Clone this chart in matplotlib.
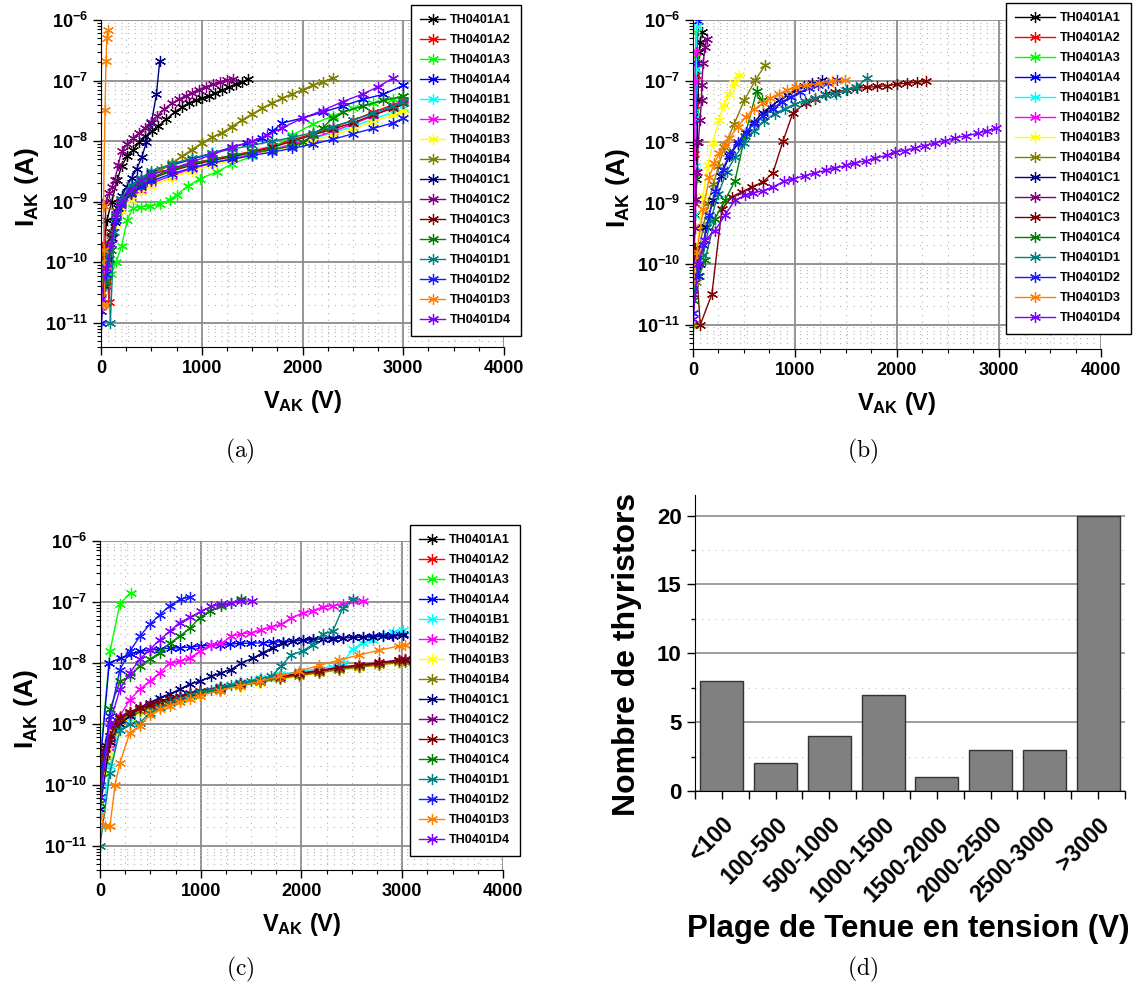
import numpy as np
import matplotlib
matplotlib.use("Agg")
import matplotlib.pyplot as plt
from matplotlib.ticker import LogLocator, MultipleLocator, FixedLocator, NullFormatter

plt.rcParams['font.family'] = ['Liberation Sans', 'DejaVu Sans']
plt.rcParams['font.weight'] = 'bold'
plt.rcParams['mathtext.fontset'] = 'custom'
plt.rcParams['mathtext.rm'] = 'Liberation Sans:bold'
plt.rcParams['mathtext.it'] = 'Liberation Sans:bold'
plt.rcParams['mathtext.bf'] = 'Liberation Sans:bold'
plt.rcParams['mathtext.sf'] = 'Liberation Sans:bold'

names = ['TH0401A1', 'TH0401A2', 'TH0401A3', 'TH0401A4',
         'TH0401B1', 'TH0401B2', 'TH0401B3', 'TH0401B4',
         'TH0401C1', 'TH0401C2', 'TH0401C3', 'TH0401C4',
         'TH0401D1', 'TH0401D2', 'TH0401D3', 'TH0401D4']
colors = ['#000000', '#ff0000', '#00ff00', '#0000ff',
          '#00ffff', '#ff00ff', '#ffff00', '#808000',
          '#000080', '#800080', '#800000', '#008000',
          '#008080', '#1a1aff', '#ff8000', '#8000ff']

# ---------------- panel (a) : V (V), I (A) ----------------
va_std = [0, 50, 100, 150, 200, 300, 400, 500, 700, 900, 1100, 1300, 1500, 1700, 1900, 2100, 2300, 2500, 2700, 2900, 3000]
va = [
    [0, 30, 60, 106, 160, 205, 260, 320, 380, 440, 510, 570, 650, 730, 800, 870, 940, 1000, 1070, 1130, 1200, 1270, 1340, 1400, 1460],
    [0, 40, 80, 120, 160, 200, 300, 400, 500, 700, 900, 1100, 1300, 1500, 1700, 1900, 2100, 2300, 2500, 2700, 2900, 3000],
    [0, 50, 100, 150, 205, 260, 320, 400, 487, 586, 680, 751, 860, 983, 1147, 1300, 1500, 1700, 1900, 2100, 2300, 2500, 2700, 2900, 3000],
    [0, 50, 100, 150, 200, 300, 400, 500, 700, 900, 1100, 1300, 1450, 1600, 1700, 1800, 2000, 2200, 2400, 2600, 2800, 3000],
    va_std,
    va_std,
    va_std,
    [0, 50, 100, 150, 200, 300, 400, 500, 600, 700, 800, 900, 1000, 1100, 1200, 1300, 1400, 1500, 1600, 1700, 1800, 1900, 2000, 2100, 2200, 2300],
    [0, 40, 75, 110, 140, 170, 205, 255, 305, 355, 404, 450, 500, 550, 583],
    [0, 30, 50, 80, 110, 139, 170, 205, 260, 320, 380, 437, 500, 560, 630, 700, 770, 840, 900, 970, 1040, 1110, 1180, 1250, 1310],
    va_std,
    [0, 50, 100, 150, 200, 300, 400, 500, 700, 900, 1100, 1300, 1500, 1700, 1900, 2000, 2100, 2200, 2300, 2400, 2600, 2800, 3000],
    [0, 40, 70, 93, 130, 200, 300, 400, 500, 700, 900, 1100, 1300, 1500, 1700, 1900, 2100, 2300, 2500, 2700, 2900, 3000],
    va_std,
    [0, 20, 40, 30, 25, 40, 50, 58, 65],
    [0, 50, 100, 150, 200, 300, 400, 500, 700, 900, 1100, 1300, 1500, 1650, 1800, 2000, 2200, 2400, 2600, 2750, 2900],
]
ia = [
    [4.0e-11, 2.0e-10, 5.0e-10, 1.0e-9, 2.24e-9, 3.9e-9, 5.6e-9, 7.2e-9, 9.5e-9, 1.2e-8, 1.45e-8, 1.78e-8, 2.3e-8, 3.0e-8, 3.6e-8, 4.3e-8, 4.7e-8, 5.1e-8, 5.6e-8, 6.2e-8, 6.9e-8, 7.8e-8, 8.7e-8, 9.5e-8, 1.05e-7],
    [6.3e-11, 2.0e-10, 2.2e-11, 3.2e-10, 7.1e-10, 1.0e-9, 1.51e-9, 2.1e-9, 2.5e-9, 3.4e-9, 4.3e-9, 5.0e-9, 5.8e-9, 6.8e-9, 8.3e-9, 1.05e-8, 1.32e-8, 1.66e-8, 2.2e-8, 3.0e-8, 4.0e-8, 4.7e-8],
    [4.0e-11, 5.0e-11, 6.3e-11, 1.0e-10, 1.86e-10, 5.0e-10, 7.9e-10, 8.3e-10, 8.5e-10, 9.1e-10, 1.07e-9, 1.3e-9, 1.8e-9, 2.4e-9, 3.1e-9, 4.2e-9, 5.6e-9, 7.6e-9, 1.26e-8, 1.9e-8, 2.6e-8, 3.5e-8, 4.2e-8, 5.0e-8, 5.5e-8],
    [1.6e-11, 6.3e-11, 2.5e-10, 7.1e-10, 1.12e-9, 1.66e-9, 2.4e-9, 3.0e-9, 4.0e-9, 5.0e-9, 6.3e-9, 7.9e-9, 9.3e-9, 1.12e-8, 1.45e-8, 2.0e-8, 2.4e-8, 3.0e-8, 3.8e-8, 4.9e-8, 5.9e-8, 8.3e-8],
    [7.9e-11, 1.26e-10, 2.5e-10, 5.0e-10, 7.9e-10, 1.2e-9, 1.66e-9, 2.1e-9, 2.8e-9, 3.6e-9, 4.4e-9, 5.2e-9, 6.2e-9, 7.4e-9, 8.9e-9, 1.1e-8, 1.38e-8, 1.74e-8, 2.3e-8, 3.0e-8, 3.5e-8],
    [3.2e-11, 1.0e-10, 2.8e-10, 5.6e-10, 8.3e-10, 1.2e-9, 1.58e-9, 2.0e-9, 2.7e-9, 3.5e-9, 4.3e-9, 5.1e-9, 6.0e-9, 7.2e-9, 8.9e-9, 1.12e-8, 1.45e-8, 1.9e-8, 2.6e-8, 3.8e-8, 4.8e-8],
    [6.3e-11, 1.26e-10, 2.5e-10, 4.5e-10, 7.1e-10, 1.07e-9, 1.45e-9, 1.82e-9, 2.5e-9, 3.2e-9, 4.0e-9, 4.8e-9, 5.8e-9, 6.9e-9, 8.3e-9, 1.02e-8, 1.26e-8, 1.58e-8, 2.1e-8, 2.7e-8, 3.2e-8],
    [5.0e-11, 1.26e-10, 3.2e-10, 7.1e-10, 1.07e-9, 1.58e-9, 2.24e-9, 2.8e-9, 3.5e-9, 4.3e-9, 5.6e-9, 7.2e-9, 9.3e-9, 1.15e-8, 1.38e-8, 1.74e-8, 2.24e-8, 2.8e-8, 3.5e-8, 4.3e-8, 5.1e-8, 6.0e-8, 7.1e-8, 8.3e-8, 9.5e-8, 1.1e-7],
    [1.0e-11, 4.0e-11, 1.12e-10, 2.5e-10, 4.6e-10, 7.9e-10, 1.23e-9, 1.78e-9, 2.5e-9, 3.5e-9, 5.4e-9, 9.5e-9, 2.0e-8, 5.9e-8, 2.1e-7],
    [1.6e-11, 1.6e-10, 1.0e-9, 1.4e-9, 1.78e-9, 2.3e-9, 4.0e-9, 6.8e-9, 8.9e-9, 1.12e-8, 1.38e-8, 1.66e-8, 2.1e-8, 2.6e-8, 3.4e-8, 4.2e-8, 4.9e-8, 5.6e-8, 6.3e-8, 7.1e-8, 7.9e-8, 8.7e-8, 9.5e-8, 1.02e-7, 1.07e-7],
    [1.0e-10, 1.58e-10, 3.2e-10, 6.3e-10, 9.5e-10, 1.41e-9, 1.9e-9, 2.4e-9, 3.2e-9, 4.0e-9, 4.8e-9, 5.5e-9, 6.5e-9, 7.9e-9, 1.0e-8, 1.26e-8, 1.58e-8, 2.0e-8, 2.7e-8, 3.5e-8, 4.2e-8],
    [3.2e-11, 5.0e-11, 1.58e-10, 5.6e-10, 9.5e-10, 1.41e-9, 2.0e-9, 2.5e-9, 3.3e-9, 4.2e-9, 5.0e-9, 5.8e-9, 6.5e-9, 7.2e-9, 8.3e-9, 9.5e-9, 1.26e-8, 1.66e-8, 2.4e-8, 3.0e-8, 3.8e-8, 4.7e-8, 5.5e-8],
    [5.0e-11, 1.0e-10, 1.58e-10, 1.0e-11, 3.2e-10, 1.12e-9, 1.9e-9, 2.5e-9, 3.2e-9, 4.2e-9, 5.2e-9, 6.3e-9, 7.4e-9, 8.5e-9, 1.0e-8, 1.15e-8, 1.38e-8, 1.74e-8, 2.2e-8, 2.9e-8, 3.8e-8, 4.5e-8],
    [1.0e-11, 6.3e-11, 2.0e-10, 5.0e-10, 8.9e-10, 1.32e-9, 1.78e-9, 2.2e-9, 2.9e-9, 3.6e-9, 4.4e-9, 5.0e-9, 5.8e-9, 6.6e-9, 7.6e-9, 8.9e-9, 1.07e-8, 1.32e-8, 1.62e-8, 2.0e-8, 2.4e-8],
    [1.0e-10, 2.0e-11, 2.0e-11, 1.58e-10, 8.5e-10, 3.3e-8, 2.1e-7, 5.1e-7, 6.9e-7],
    [2.5e-11, 7.9e-11, 2.0e-10, 6.3e-10, 1.0e-9, 1.58e-9, 2.24e-9, 2.8e-9, 3.5e-9, 4.5e-9, 6.0e-9, 7.9e-9, 1.0e-8, 1.26e-8, 1.66e-8, 2.4e-8, 3.2e-8, 4.5e-8, 6.0e-8, 7.9e-8, 1.1e-7],
]

# ---------------- panel (b) ----------------
vb = [
    [0, 10, 20, 30, 40, 50, 63, 69, 85],
    [0, 5, 10, 15, 20, 25],
    [0, 6, 12, 18, 24, 30],
    [0, 10, 20, 30, 40, 49],
    [0, 8, 16, 24, 32, 40],
    [0, 10, 15, 20, 25],
    [0, 30, 60, 97, 146, 195, 253, 302, 357, 406, 455],
    [0, 30, 60, 100, 150, 200, 250, 308, 406, 503, 610, 708],
    [0, 65, 130, 195, 275, 357, 440, 519, 600, 682, 760, 844, 920, 1006, 1090, 1169, 1266],
    [0, 10, 20, 29, 42, 52, 69, 85, 85, 101, 118, 134],
    [0, 20, 72, 186, 284, 382, 480, 578, 686, 784, 882, 980, 1104, 1201, 1299, 1396, 1510, 1607, 1705, 1800, 1900, 2000, 2094, 2192, 2289],
    [0, 60, 118, 216, 314, 412, 510, 624, 673],
    [0, 50, 100, 170, 250, 330, 410, 500, 600, 700, 800, 900, 1000, 1100, 1200, 1300, 1400, 1500, 1600, 1705],
    [0, 50, 100, 160, 220, 290, 360, 440, 520, 600, 690, 780, 870, 960, 1050, 1140, 1230, 1320, 1410],
    [0, 40, 100, 162, 210, 260, 310, 357, 440, 519, 600, 682, 760, 844, 920, 1006, 1120, 1234, 1360, 1494],
    [0, 50, 118, 216, 314, 412, 510, 590, 686, 784, 889, 980, 1100, 1201, 1300, 1396, 1500, 1591, 1700, 1786, 1900, 1981, 2080, 2175, 2270, 2370, 2470, 2565, 2680, 2792, 2880, 2971],
]
ib = [
    [4.0e-11, 1.58e-10, 6.3e-10, 2.5e-9, 1.0e-8, 5.0e-8, 3.0e-7, 4.4e-7, 6.3e-7],
    [2.5e-11, 1.58e-10, 1.0e-9, 6.3e-9, 4.0e-8, 1.26e-7],
    [1.0e-11, 1.58e-10, 2.5e-9, 3.2e-8, 2.5e-7, 6.3e-7],
    [5.0e-11, 4.0e-10, 3.2e-9, 2.5e-8, 2.0e-7, 9.5e-7],
    [1.0e-10, 6.3e-10, 4.0e-9, 2.5e-8, 1.58e-7, 7.9e-7],
    [6.3e-11, 4.0e-10, 3.2e-9, 1.0e-7, 3.0e-7],
    [6.3e-11, 1.58e-10, 4.0e-10, 1.29e-9, 4.2e-9, 9.5e-9, 2.3e-8, 4.0e-8, 6.2e-8, 9.1e-8, 1.23e-7],
    [1.0e-11, 5.0e-11, 1.58e-10, 4.0e-10, 1.0e-9, 2.0e-9, 4.0e-9, 8.3e-9, 2.0e-8, 4.8e-8, 1.02e-7, 1.82e-7],
    [2.5e-11, 1.0e-10, 4.0e-10, 1.12e-9, 2.8e-9, 5.8e-9, 9.3e-9, 1.38e-8, 2.1e-8, 3.0e-8, 3.8e-8, 4.8e-8, 5.9e-8, 7.1e-8, 8.1e-8, 9.1e-8, 1.02e-7],
    [3.2e-11, 1.26e-10, 3.8e-10, 1.17e-9, 3.2e-9, 1.0e-8, 2.3e-8, 4.9e-8, 8.5e-8, 2.0e-7, 3.6e-7, 4.9e-7],
    [1.26e-10, 1.78e-10, 1.0e-11, 3.2e-11, 7.9e-10, 1.26e-9, 1.51e-9, 1.82e-9, 2.2e-9, 3.1e-9, 1.02e-8, 3.0e-8, 4.3e-8, 5.1e-8, 6.0e-8, 6.6e-8, 7.1e-8, 7.6e-8, 7.8e-8, 8.1e-8, 8.3e-8, 8.9e-8, 9.1e-8, 9.5e-8, 1.0e-7],
    [2.5e-11, 6.3e-11, 1.15e-10, 5.5e-10, 1.1e-9, 2.3e-9, 1.26e-8, 6.8e-8, 4.9e-8],
    [4.0e-11, 1.0e-10, 1.41e-10, 5.0e-10, 1.41e-9, 3.2e-9, 5.6e-9, 9.5e-9, 1.51e-8, 2.2e-8, 2.9e-8, 3.5e-8, 4.2e-8, 4.7e-8, 5.2e-8, 5.8e-8, 6.2e-8, 7.2e-8, 7.9e-8, 1.1e-7],
    [1.58e-11, 6.3e-11, 2.0e-10, 6.3e-10, 1.58e-9, 3.5e-9, 6.3e-9, 1.0e-8, 1.45e-8, 2.0e-8, 2.7e-8, 3.5e-8, 4.5e-8, 5.5e-8, 6.5e-8, 7.6e-8, 8.5e-8, 9.3e-8, 1.02e-7],
    [5.0e-11, 1.58e-10, 7.9e-10, 2.7e-9, 4.5e-9, 6.6e-9, 8.9e-9, 1.15e-8, 1.78e-8, 2.6e-8, 3.4e-8, 4.3e-8, 5.2e-8, 6.2e-8, 7.1e-8, 7.9e-8, 8.5e-8, 9.1e-8, 9.8e-8, 1.02e-7],
    [1.26e-11, 1.0e-10, 2.45e-10, 3.5e-10, 6.3e-10, 1.1e-9, 1.32e-9, 1.45e-9, 1.58e-9, 1.82e-9, 2.24e-9, 2.45e-9, 2.8e-9, 3.1e-9, 3.4e-9, 3.7e-9, 4.1e-9, 4.5e-9, 4.9e-9, 5.4e-9, 6.0e-9, 6.8e-9, 7.2e-9, 7.9e-9, 8.7e-9, 9.5e-9, 1.05e-8, 1.15e-8, 1.26e-8, 1.38e-8, 1.51e-8, 1.66e-8],
]

# ---------------- panel (c) ----------------
vc_std = [0, 50, 99, 150, 198, 297, 396, 495, 594, 693, 792, 891, 990, 1188, 1386, 1584, 1782, 1980, 2178, 2376, 2574, 2772, 2970, 3030]
vc = [
    vc_std,
    vc_std,
    [0, 99, 198, 304],
    [0, 92, 205, 304, 396, 500, 594, 700, 792, 900, 1000, 1100, 1188, 1290, 1386, 1500, 1617, 1720, 1820, 1914, 2010, 2110, 2211, 2310, 2410, 2508, 2610, 2706, 2810, 2900, 3003],
    [0, 99, 198, 297, 396, 495, 594, 693, 792, 891, 990, 1188, 1386, 1584, 1782, 1980, 2178, 2310, 2409, 2508, 2607, 2706, 2805, 2904, 3003],
    [0, 99, 198, 297, 396, 495, 594, 693, 792, 891, 990, 1106, 1205, 1304, 1403, 1502, 1600, 1700, 1799, 1898, 2013, 2112, 2211, 2310, 2409, 2508, 2607],
    vc_std,
    vc_std,
    [0, 99, 198, 297, 396, 495, 594, 693, 792, 891, 990, 1106, 1205, 1304, 1403, 1518, 1617, 1716, 1815, 1914, 2013, 2112, 2211, 2310, 2409, 2508, 2607, 2706, 2805, 2904, 3003],
    vc_std,
    vc_std,
    [0, 99, 198, 297, 396, 495, 594, 693, 792, 891, 990, 1089, 1205, 1304, 1403],
    [0, 99, 198, 297, 396, 495, 594, 693, 792, 891, 990, 1106, 1205, 1304, 1403, 1502, 1600, 1700, 1799, 1898, 2013, 2112, 2211, 2310, 2409, 2508],
    [0, 99, 198, 297, 396, 495, 594, 693, 800, 891],
    vc_std,
    [0, 99, 198, 297, 396, 495, 594, 693, 792, 891, 1007, 1106, 1205, 1304, 1403, 1508],
]
ic = [
    [2.5e-10, 4.5e-10, 6.3e-10, 1.0e-9, 1.26e-9, 1.51e-9, 1.78e-9, 2.0e-9, 2.24e-9, 2.5e-9, 2.75e-9, 3.0e-9, 3.3e-9, 3.8e-9, 4.4e-9, 5.0e-9, 5.6e-9, 6.5e-9, 7.2e-9, 7.9e-9, 8.7e-9, 9.5e-9, 1.05e-8, 1.07e-8],
    [6.3e-11, 2.0e-10, 4.5e-10, 8.9e-10, 1.2e-9, 1.45e-9, 1.7e-9, 1.95e-9, 2.2e-9, 2.45e-9, 2.7e-9, 2.95e-9, 3.2e-9, 3.7e-9, 4.3e-9, 4.9e-9, 5.6e-9, 6.5e-9, 7.2e-9, 8.1e-9, 8.9e-9, 9.8e-9, 1.1e-8, 1.15e-8],
    [2.5e-10, 1.55e-8, 9.3e-8, 1.41e-7],
    [2.0e-10, 1.0e-8, 1.2e-8, 1.41e-8, 1.55e-8, 1.62e-8, 1.7e-8, 1.74e-8, 1.78e-8, 1.82e-8, 1.9e-8, 1.95e-8, 2.0e-8, 2.04e-8, 2.1e-8, 2.11e-8, 2.14e-8, 2.19e-8, 2.24e-8, 2.29e-8, 2.34e-8, 2.4e-8, 2.5e-8, 2.57e-8, 2.6e-8, 2.63e-8, 2.69e-8, 2.75e-8, 2.82e-8, 2.88e-8, 2.95e-8],
    [2.1e-11, 2.0e-10, 1.0e-9, 1.26e-9, 1.58e-9, 1.9e-9, 2.2e-9, 2.5e-9, 2.8e-9, 3.2e-9, 3.5e-9, 4.2e-9, 4.9e-9, 5.6e-9, 6.5e-9, 7.2e-9, 8.1e-9, 8.7e-9, 1.0e-8, 1.7e-8, 2.14e-8, 2.4e-8, 2.75e-8, 3.2e-8, 3.5e-8],
    [6.3e-11, 4.0e-10, 1.35e-9, 2.5e-9, 3.7e-9, 5.0e-9, 6.9e-9, 1.0e-8, 1.07e-8, 1.2e-8, 1.55e-8, 2.0e-8, 2.1e-8, 2.75e-8, 3.0e-8, 3.1e-8, 3.5e-8, 3.9e-8, 4.3e-8, 5.5e-8, 6.6e-8, 7.2e-8, 8.3e-8, 8.7e-8, 9.1e-8, 1.02e-7, 1.05e-7],
    [4.0e-11, 1.58e-10, 3.2e-10, 7.1e-10, 1.07e-9, 1.32e-9, 1.58e-9, 1.82e-9, 2.04e-9, 2.3e-9, 2.5e-9, 2.75e-9, 3.0e-9, 3.5e-9, 4.1e-9, 4.7e-9, 5.4e-9, 6.0e-9, 6.8e-9, 7.6e-9, 8.3e-9, 9.1e-9, 1.0e-8, 1.02e-8],
    [1.0e-10, 2.5e-10, 5.0e-10, 7.9e-10, 1.12e-9, 1.38e-9, 1.62e-9, 1.86e-9, 2.14e-9, 2.4e-9, 2.6e-9, 2.9e-9, 3.2e-9, 3.6e-9, 4.2e-9, 4.8e-9, 5.5e-9, 6.2e-9, 6.9e-9, 7.8e-9, 8.5e-9, 9.3e-9, 1.02e-8, 1.05e-8],
    [4.0e-11, 5.0e-10, 1.0e-9, 1.35e-9, 1.86e-9, 2.24e-9, 2.7e-9, 3.1e-9, 3.7e-9, 4.5e-9, 5.0e-9, 6.0e-9, 6.9e-9, 7.8e-9, 1.0e-8, 1.2e-8, 1.48e-8, 1.78e-8, 2.14e-8, 2.3e-8, 2.4e-8, 2.45e-8, 2.5e-8, 2.5e-8, 2.57e-8, 2.63e-8, 2.63e-8, 2.69e-8, 2.75e-8, 2.75e-8, 2.82e-8],
    [1.58e-10, 3.2e-10, 5.6e-10, 1.0e-9, 1.32e-9, 1.58e-9, 1.86e-9, 2.1e-9, 2.3e-9, 2.6e-9, 2.9e-9, 3.2e-9, 3.5e-9, 4.0e-9, 4.6e-9, 5.2e-9, 6.0e-9, 6.8e-9, 7.6e-9, 8.5e-9, 9.3e-9, 1.02e-8, 1.12e-8, 1.15e-8],
    [2.0e-10, 4.0e-10, 6.3e-10, 9.5e-10, 1.26e-9, 1.55e-9, 1.82e-9, 2.04e-9, 2.3e-9, 2.6e-9, 2.8e-9, 3.1e-9, 3.4e-9, 3.9e-9, 4.5e-9, 5.1e-9, 5.9e-9, 6.6e-9, 7.4e-9, 8.3e-9, 9.1e-9, 1.0e-8, 1.1e-8, 1.12e-8],
    [5.0e-11, 1.74e-9, 5.0e-9, 6.0e-9, 8.9e-9, 1.15e-8, 1.48e-8, 2.1e-8, 2.75e-8, 3.7e-8, 5.5e-8, 7.1e-8, 8.5e-8, 9.5e-8, 1.1e-7],
    [1.0e-11, 1.58e-10, 7.9e-10, 1.0e-9, 1.05e-9, 1.51e-9, 1.9e-9, 2.24e-9, 2.6e-9, 3.0e-9, 3.3e-9, 3.6e-9, 4.0e-9, 4.4e-9, 4.7e-9, 5.0e-9, 5.4e-9, 6.0e-9, 8.9e-9, 1.35e-8, 1.58e-8, 2.0e-8, 3.0e-8, 3.3e-8, 7.9e-8, 1.1e-7],
    [1.0e-10, 1.35e-9, 7.8e-9, 1.55e-8, 2.75e-8, 4.3e-8, 6.2e-8, 8.7e-8, 1.12e-7, 1.2e-7],
    [3.2e-11, 2.1e-11, 2.1e-11, 1.0e-10, 2.3e-10, 7.2e-10, 9.3e-10, 1.41e-9, 1.74e-9, 2.0e-9, 2.3e-9, 2.6e-9, 2.9e-9, 3.5e-9, 4.2e-9, 5.0e-9, 6.0e-9, 7.4e-9, 9.1e-9, 1.12e-8, 1.35e-8, 1.62e-8, 1.9e-8, 2.0e-8],
    [6.3e-11, 1.05e-9, 3.7e-9, 6.9e-9, 1.15e-8, 1.66e-8, 2.4e-8, 3.3e-8, 4.6e-8, 5.6e-8, 7.1e-8, 8.5e-8, 9.1e-8, 9.5e-8, 1.02e-7, 1.05e-7],
]

# ---------------- panel (d) ----------------
ranges = ['<100', '100-500', '500-1000', '1000-1500', '1500-2000', '2000-2500', '2500-3000', '>3000']
counts = [8, 2, 4, 7, 1, 3, 3, 20]

ytick_vals = [1e-11, 1e-10, 1e-9, 1e-8, 1e-7, 1e-6]
ytick_labs = ['10$^{-11}$', '10$^{-10}$', '10$^{-9}$', '10$^{-8}$', '10$^{-7}$', '10$^{-6}$']

fig = plt.figure(figsize=(11.36, 9.88), dpi=100)


def iv_panel(rect, vlist, ilist, leg_xy, hl):
    ax = fig.add_axes(rect)
    for v, i, c, n in zip(vlist, ilist, colors, names):
        ax.plot(v, i, color=c, lw=1, marker=(6, 2, 0), ms=8, mew=0.9, label=n)
    ax.set_yscale('log')
    ax.set_xlim(0, 4000)
    ax.set_ylim(4e-12, 1e-6)
    ax.set_xticks([0, 1000, 2000, 3000, 4000])
    ax.xaxis.set_minor_locator(MultipleLocator(250))
    ax.set_yticks(ytick_vals)
    ax.set_yticklabels(ytick_labs)
    ax.yaxis.set_minor_locator(LogLocator(base=10, subs=np.arange(2, 10), numticks=30))
    ax.yaxis.set_minor_formatter(NullFormatter())
    ax.tick_params(which='major', direction='out', length=6, width=1, labelsize=13)
    ax.tick_params(which='minor', direction='out', length=3, width=0.8)
    ax.spines['top'].set_visible(False)
    ax.spines['right'].set_visible(False)
    ax.set_axisbelow(True)
    ax.grid(which='major', color='#8c8c8c', lw=1.3)
    ax.grid(which='minor', color='#b4b4b4', lw=0.8, ls=(0, (1, 5)))
    ax.set_xlabel('V$_{AK}$ (V)', fontsize=17, fontweight='bold', va='top')
    ax.xaxis.set_label_coords(0.5, -0.125)
    ax.set_ylabel('I$_{AK}$ (A)', fontsize=19, fontweight='bold')
    ax.yaxis.set_label_coords(-0.15, 0.49)
    leg = ax.legend(loc='upper left', bbox_to_anchor=leg_xy, borderaxespad=0,
                    fontsize=9, labelspacing=0.64, handlelength=hl,
                    handletextpad=0.4, borderpad=0.75, fancybox=False,
                    framealpha=1, edgecolor='black')
    leg.get_frame().set_linewidth(1)
    return ax


iv_panel([0.0889, 0.6488, 0.3548, 0.3310], va, ia, (0.769, 1.046), 2.0)
iv_panel([0.6100, 0.6468, 0.3592, 0.3330], vb, ib, (0.767, 1.052), 3.2)
iv_panel([0.0880, 0.1194, 0.3548, 0.3330], vc, ic, (0.769, 1.049), 2.0)

# bar chart
axd = fig.add_axes([0.6118, 0.1994, 0.3785, 0.2996])
pos = np.arange(len(ranges))
axd.bar(pos, counts, width=0.8, color='#808080', edgecolor='#333333', lw=1, zorder=3)
axd.set_xlim(-0.5, 7.5)
axd.set_ylim(0, 21.5)
axd.set_yticks([0, 5, 10, 15, 20])
axd.yaxis.set_minor_locator(MultipleLocator(2.5))
axd.set_xticks(pos)
axd.set_xticklabels(ranges, rotation=45, ha='right', va='top', rotation_mode='anchor')
axd.xaxis.set_minor_locator(FixedLocator(np.arange(-0.5, 8, 1)))
axd.tick_params(axis='x', which='major', direction='out', length=6, width=1, labelsize=16.5, pad=10)
axd.tick_params(axis='x', which='minor', direction='out', length=6, width=1)
axd.tick_params(axis='y', which='major', direction='out', length=6, width=1, labelsize=16)
axd.tick_params(axis='y', which='minor', direction='out', length=3, width=1)
axd.spines['top'].set_visible(False)
axd.spines['right'].set_visible(False)
axd.grid(axis='y', which='major', color='#8c8c8c', lw=1.2, zorder=0)
axd.grid(axis='y', which='minor', color='#c0c0c0', lw=0.8, ls=(0, (1, 5)), zorder=0)
axd.set_axisbelow(True)
axd.set_ylabel('Nombre de thyristors', fontsize=23, fontweight='bold')
axd.yaxis.set_label_coords(-0.123, 0.46)
axd.set_xlabel('Plage de Tenue en tension (V)', fontsize=22.5, fontweight='bold', va='top')
axd.xaxis.set_label_coords(0.495, -0.415)

# captions
for cx, cy, txt in [(240, 451, '(a)'), (863, 451, '(b)'), (240, 969, '(c)'), (863, 969, '(d)')]:
    fig.text(cx / 1136, 1 - cy / 988, r'$\mathrm{' + txt + '}$', ha='center', va='center',
             fontsize=17, math_fontfamily='cm')

fig.savefig('out.png', dpi=100)
